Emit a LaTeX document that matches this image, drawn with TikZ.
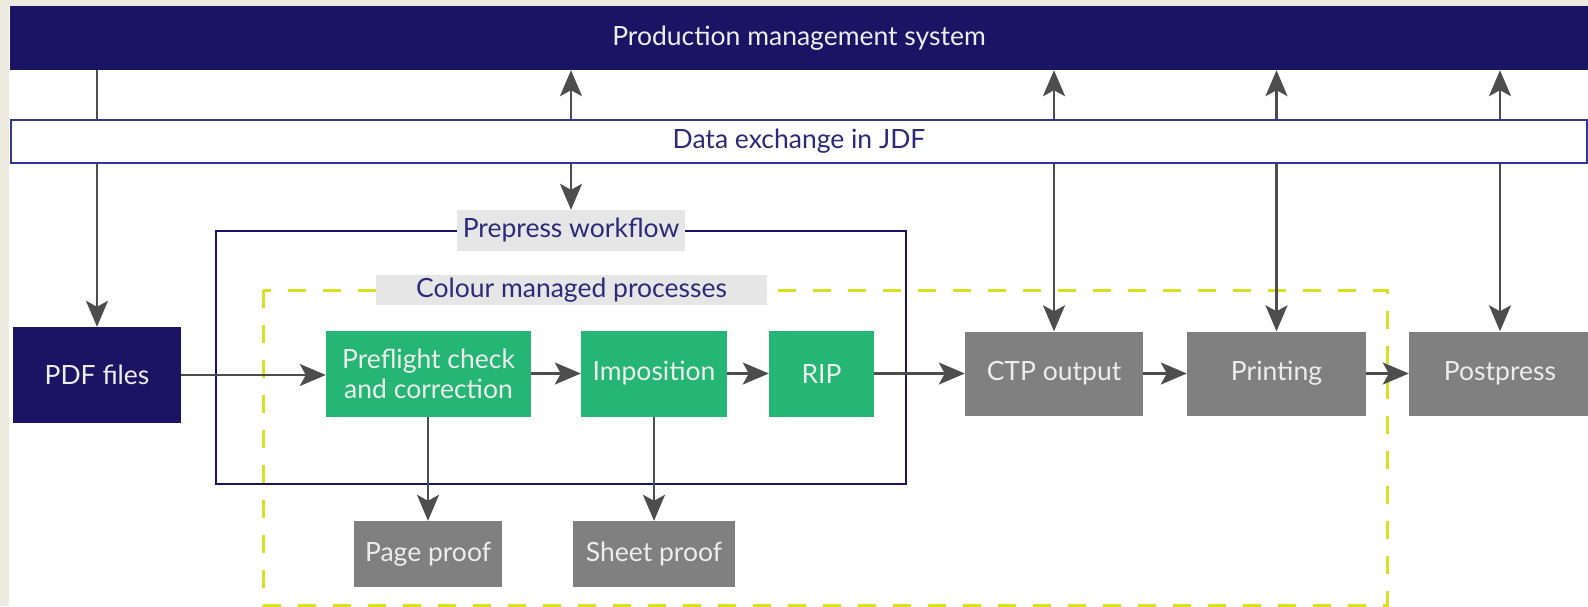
\documentclass[tikz,border=0pt]{standalone}
\usepackage{fontspec}
\setmainfont{Lato}
\usetikzlibrary{arrows.meta}
\definecolor{navy}{HTML}{1B1464}
\definecolor{jdfblue}{HTML}{34379A}
\definecolor{labeltext}{HTML}{2D2A7A}
\definecolor{procgreen}{HTML}{25B574}
\definecolor{procgray}{HTML}{808080}
\definecolor{arrowgray}{HTML}{4D4D4D}
\definecolor{labelfill}{HTML}{E6E6E6}
\definecolor{cmyellow}{HTML}{D9E021}
\definecolor{beige}{HTML}{EDEAE0}
\definecolor{boxtext}{HTML}{EDEDED}
\begin{document}
\begin{tikzpicture}[x=1pt,y=-1pt,
  box/.style={rectangle, inner sep=0pt, align=center, text=boxtext, font=\fontsize{26.5}{30}\selectfont},
  navybox/.style={box, fill=navy},
  greenbox/.style={box, fill=procgreen},
  graybox/.style={box, fill=procgray},
  grouplabel/.style={rectangle, inner sep=0pt, fill=labelfill, text=labeltext, font=\fontsize{26.5}{30}\selectfont},
  arr/.style={draw=arrowgray, line width=2.2pt, -{Stealth[length=26pt,width=22pt,inset=6pt]}},
]
\useasboundingbox (0,0) rectangle (1588,606);
\fill[beige] (0,0) rectangle (1588,606);
\fill[white] (9,6) rectangle (1588,606);

\node[navybox, minimum width=1578pt, minimum height=64pt] (pms) at (799,38) {Production management system};
\node[navybox, minimum width=168pt, minimum height=96pt] (pdf) at (97,375) {PDF files};
\draw[arr] (pms.south -| pdf.north) -- (pdf.north);
\node[rectangle, draw=jdfblue, line width=2pt, fill=white, minimum width=1576pt, minimum height=43pt, inner sep=0pt, text=labeltext, font=\fontsize{26.5}{30}\selectfont] (jdf) at (799,141.5) {Data exchange in JDF};

\draw[navy, line width=2pt] (216,231) rectangle (906,484);
\draw[cmyellow, line width=3pt, dash pattern=on 18pt off 17pt] (263,290) rectangle (1387,605);
\node[grouplabel, minimum width=228pt, minimum height=41pt] (pwlabel) at (571,230.5) {Prepress workflow};
\node[grouplabel, minimum width=391pt, minimum height=30pt] (cmlabel) at (571.5,290) {\raisebox{-2pt}{Colour managed processes}};

\node[greenbox, minimum width=205pt, minimum height=86pt] (preflight) at (428.5,373.5) {Preflight check\\and correction};
\node[greenbox, minimum width=146pt, minimum height=86pt] (impo) at (654,373.5) {Imposition};
\node[greenbox, minimum width=105pt, minimum height=86pt] (rip) at (821.5,373.5) {RIP};
\node[graybox, minimum width=178pt, minimum height=84pt] (ctp) at (1054,373.5) {CTP output};
\node[graybox, minimum width=179pt, minimum height=84pt] (print) at (1276.5,373.5) {Printing};
\node[graybox, minimum width=182pt, minimum height=84pt] (post) at (1500,373.5) {Postpress};
\node[graybox, minimum width=148pt, minimum height=66pt] (pageproof) at (428,554) {Page proof};
\node[graybox, minimum width=162pt, minimum height=66pt] (sheetproof) at (654,554) {Sheet proof};

\draw[arr] (pdf.east) -- (pdf.east -| preflight.west);
\draw[arr] (preflight.east) -- (impo.west);
\draw[arr] (impo.east) -- (rip.west);
\draw[arr] (rip.east) -- (ctp.west);
\draw[arr] (ctp.east) -- (print.west);
\draw[arr] (print.east) -- (post.west);
\draw[arr] (preflight.south -| pageproof.north) -- (pageproof.north);
\draw[arr] (impo.south -| sheetproof.north) -- (sheetproof.north);

\draw[arr] (jdf.north -| pwlabel.north) -- (pms.south -| pwlabel.north);
\draw[arr] (jdf.south -| pwlabel.north) -- (pwlabel.north);
\foreach \n in {ctp, print, post} {
  \draw[arr] (jdf.north -| \n.north) -- (pms.south -| \n.north);
  \draw[arr] (jdf.south -| \n.north) -- (\n.north);
}
\end{tikzpicture}
\end{document}
